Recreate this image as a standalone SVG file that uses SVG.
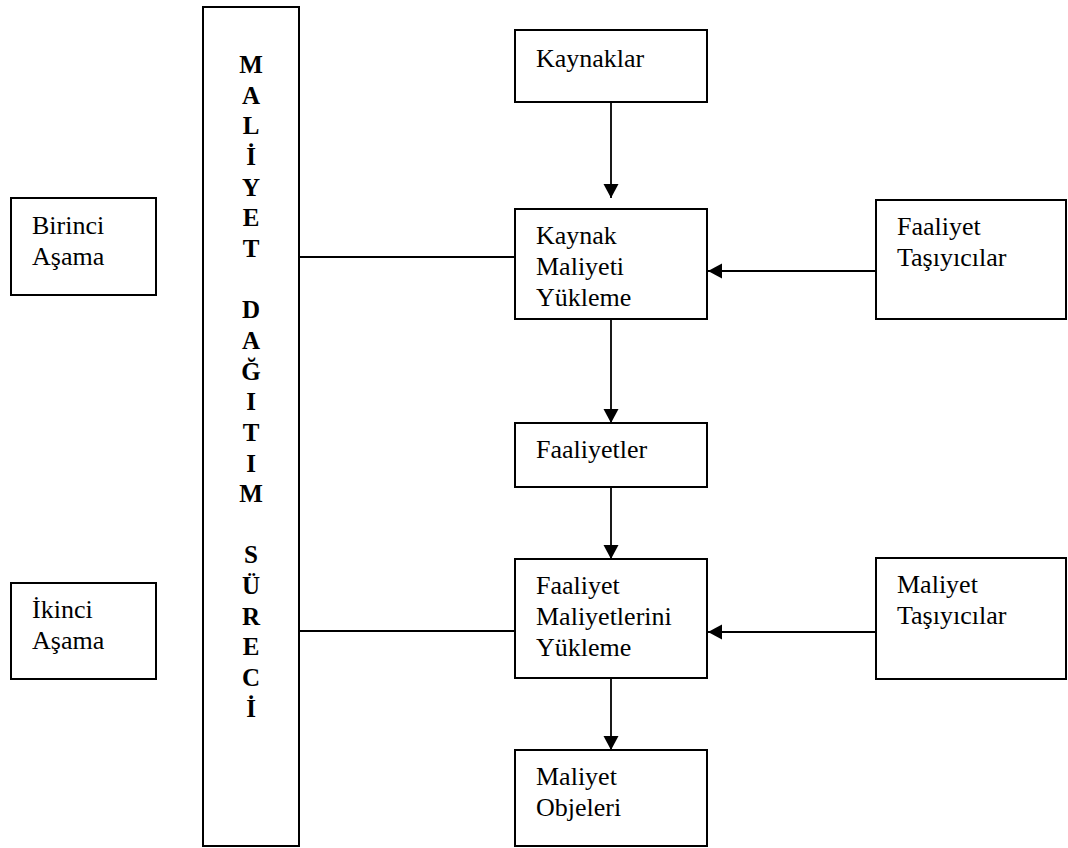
<svg xmlns="http://www.w3.org/2000/svg" width="1068" height="848" viewBox="0 0 1068 848">
  <style>
    .box { fill: #ffffff; stroke: #000000; stroke-width: 2; }
    .lbl { font-family: "Liberation Serif", "Times New Roman", serif; font-size: 26px; fill: #000000; }
    .vert { font-family: "Liberation Serif", "Times New Roman", serif; font-size: 25px; font-weight: bold; fill: #000000; text-anchor: middle; }
    .conn { stroke: #000000; stroke-width: 1.8; fill: none; }
  </style>
  <defs>
    <marker id="arrow" markerUnits="userSpaceOnUse" markerWidth="15" markerHeight="16" refX="14" refY="7.5" orient="auto">
      <path d="M0,0 L14,7.5 L0,15 Z" fill="#000000"/>
    </marker>
  </defs>
  <rect width="1068" height="848" fill="#ffffff"/>

  <!-- connectors -->
  <g id="connectors">
    <line class="conn" x1="299" y1="257" x2="515" y2="257"/>
    <line class="conn" x1="299" y1="631" x2="515" y2="631"/>
    <line class="conn" x1="611" y1="102" x2="611" y2="198" marker-end="url(#arrow)"/>
    <line class="conn" x1="611" y1="319" x2="611" y2="423" marker-end="url(#arrow)"/>
    <line class="conn" x1="611" y1="487" x2="611" y2="559" marker-end="url(#arrow)"/>
    <line class="conn" x1="611" y1="678" x2="611" y2="750" marker-end="url(#arrow)"/>
    <line class="conn" x1="876" y1="271" x2="708" y2="271" marker-end="url(#arrow)"/>
    <line class="conn" x1="876" y1="632" x2="708" y2="632" marker-end="url(#arrow)"/>
  </g>

  <!-- stage labels -->
  <g id="birinci-asama">
    <rect class="box" x="11" y="198" width="145" height="97"/>
    <text class="lbl" x="32" y="234">Birinci</text>
    <text class="lbl" x="32" y="265">Aşama</text>
  </g>
  <g id="ikinci-asama">
    <rect class="box" x="11" y="583" width="145" height="96"/>
    <text class="lbl" x="32" y="618">İkinci</text>
    <text class="lbl" x="32" y="649">Aşama</text>
  </g>

  <!-- vertical process bar -->
  <g id="maliyet-dagitim-sureci">
    <rect class="box" x="203" y="7" width="96" height="839"/>
    <text class="vert" x="251" y="73">M</text>
    <text class="vert" x="251" y="103.6">A</text>
    <text class="vert" x="251" y="134.3">L</text>
    <text class="vert" x="251" y="165">İ</text>
    <text class="vert" x="251" y="195.6">Y</text>
    <text class="vert" x="251" y="226.3">E</text>
    <text class="vert" x="251" y="256.9">T</text>
    <text class="vert" x="251" y="318.2">D</text>
    <text class="vert" x="251" y="348.9">A</text>
    <text class="vert" x="251" y="379.5">Ğ</text>
    <text class="vert" x="251" y="410.2">I</text>
    <text class="vert" x="251" y="440.8">T</text>
    <text class="vert" x="251" y="471.5">I</text>
    <text class="vert" x="251" y="502.1">M</text>
    <text class="vert" x="251" y="563.4">S</text>
    <text class="vert" x="251" y="594">Ü</text>
    <text class="vert" x="251" y="624.7">R</text>
    <text class="vert" x="251" y="655.4">E</text>
    <text class="vert" x="251" y="686">C</text>
    <text class="vert" x="251" y="716.7">İ</text>
  </g>

  <!-- main flow -->
  <g id="kaynaklar">
    <rect class="box" x="515" y="30" width="192" height="72"/>
    <text class="lbl" x="536" y="67">Kaynaklar</text>
  </g>
  <g id="kaynak-maliyeti-yukleme">
    <rect class="box" x="515" y="209" width="192" height="110"/>
    <text class="lbl" x="536" y="244">Kaynak</text>
    <text class="lbl" x="536" y="275">Maliyeti</text>
    <text class="lbl" x="536" y="306">Yükleme</text>
  </g>
  <g id="faaliyetler">
    <rect class="box" x="515" y="423" width="192" height="64"/>
    <text class="lbl" x="536" y="458">Faaliyetler</text>
  </g>
  <g id="faaliyet-maliyetlerini-yukleme">
    <rect class="box" x="515" y="559" width="192" height="119"/>
    <text class="lbl" x="536" y="594">Faaliyet</text>
    <text class="lbl" x="536" y="625">Maliyetlerini</text>
    <text class="lbl" x="536" y="656">Yükleme</text>
  </g>
  <g id="maliyet-objeleri">
    <rect class="box" x="515" y="750" width="192" height="96"/>
    <text class="lbl" x="536" y="785">Maliyet</text>
    <text class="lbl" x="536" y="816">Objeleri</text>
  </g>

  <!-- drivers -->
  <g id="faaliyet-tasiyicilar">
    <rect class="box" x="876" y="200" width="190" height="119"/>
    <text class="lbl" x="897" y="235">Faaliyet</text>
    <text class="lbl" x="897" y="266">Taşıyıcılar</text>
  </g>
  <g id="maliyet-tasiyicilar">
    <rect class="box" x="876" y="558" width="190" height="121"/>
    <text class="lbl" x="897" y="593">Maliyet</text>
    <text class="lbl" x="897" y="624">Taşıyıcılar</text>
  </g>
</svg>
